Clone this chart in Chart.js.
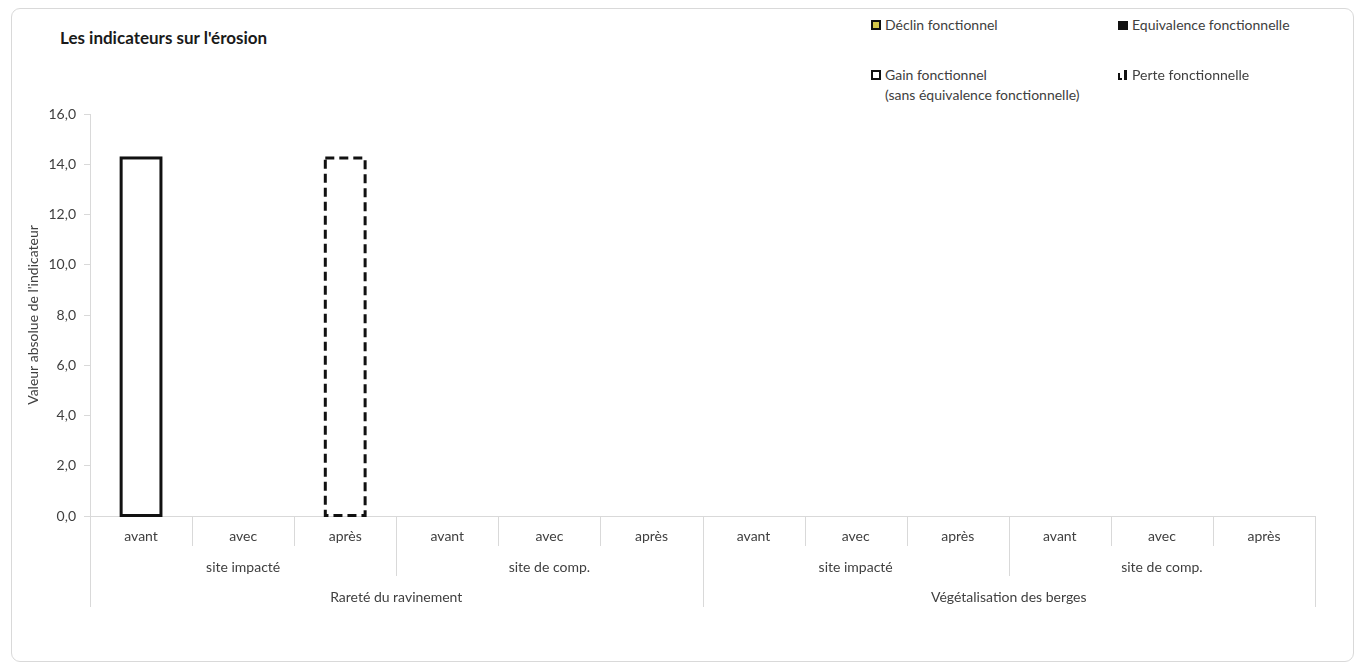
<!DOCTYPE html>
<html lang="fr">
<head>
<meta charset="utf-8">
<title>Les indicateurs sur l'érosion</title>
<script src="https://cdn.jsdelivr.net/npm/chart.js@4.4.1/dist/chart.umd.min.js"></script>
<style>
  html, body { margin: 0; padding: 0; background: #fff; }
  body { width: 1360px; height: 670px; position: relative; overflow: hidden; font-family: Lato, "Open Sans", sans-serif; }
  .frame { position: absolute; left: 11px; top: 8px; width: 1343px; height: 654px; border: 1px solid #d9d9d9; border-radius: 9px; box-sizing: border-box; }
  #erosionChart { position: absolute; left: 0; top: 0; }
  .chart-title { position: absolute; left: 60px; top: 27px; font-weight: bold; font-size: 17px; line-height: 22px; color: #1a1a1a; }
  .legend { position: absolute; left: 0; top: 0; font-size: 14px; color: #404040; }
  .legend-item { position: absolute; display: flex; align-items: flex-start; line-height: 20px; white-space: nowrap; }
  .legend-item canvas { flex-shrink: 0; width: 12px; height: 12px; margin-top: 4px; margin-right: 3px; }
</style>
</head>
<body>
<div class="frame"></div>
<div class="chart-title">Les indicateurs sur l'érosion</div>
<div class="legend" id="legend"></div>
<canvas id="erosionChart" width="1360" height="670"></canvas>
<script>
// Catégories de l'axe X (trois niveaux)
const periods = ['avant', 'avec', 'après', 'avant', 'avec', 'après', 'avant', 'avec', 'après', 'avant', 'avec', 'après'];
const sites = ['site impacté', 'site de comp.', 'site impacté', 'site de comp.'];
const indicators = ['Rareté du ravinement', 'Végétalisation des berges'];

// Valeurs des séries
const declinValues = [null, null, null, null, null, null, null, null, null, null, null, null];
const equivalenceValues = [null, null, null, null, null, null, null, null, null, null, null, null];
const gainValues = [14.25, null, null, null, null, null, null, null, null, null, null, null];
const perteValues = [null, null, 14.25, null, null, null, null, null, null, null, null, null];

// Graduations de l'axe Y
const yTicks = [0, 2, 4, 6, 8, 10, 12, 14, 16];

const seriesNames = ['Déclin fonctionnel', 'Equivalence fonctionnelle', 'Gain fonctionnel\n(sans équivalence fonctionnelle)', 'Perte fonctionnelle'];

const labelFont = { family: 'Lato, "Open Sans", sans-serif', size: 14 };
const textColor = '#404040';
const lineColor = '#d9d9d9';

// Contour des barres : trait plein ou pointillé, centré sur le bord de la barre
const outlinedBars = {
    id: 'outlinedBars',
    afterDatasetsDraw(chart) {
        const ctx = chart.ctx;
        chart.data.datasets.forEach((ds, i) => {
            if (!ds.outline) return;
            const meta = chart.getDatasetMeta(i);
            meta.data.forEach((el, j) => {
                if (ds.data[j] === null) return;
                const p = el.getProps(['x', 'y', 'base', 'width'], true);
                ctx.save();
                ctx.strokeStyle = ds.outline.color;
                ctx.lineWidth = ds.outline.width;
                ctx.setLineDash(ds.outline.dash);
                ctx.strokeRect(p.x - p.width / 2, p.y, p.width, p.base - p.y);
                ctx.restore();
            });
        });
    }
};

// Libellés des niveaux 2 et 3 de l'axe X et traits de séparation
const groupAxis = {
    id: 'groupAxis',
    afterDraw(chart) {
        const ctx = chart.ctx;
        const x = chart.scales.x;
        const bottom = chart.chartArea.bottom;
        const step = x.getPixelForValue(1) - x.getPixelForValue(0);
        const edge = k => x.getPixelForValue(0) - step / 2 + k * step;

        ctx.save();
        ctx.strokeStyle = lineColor;
        ctx.lineWidth = 1;
        for (let k = 0; k <= periods.length; k++) {
            let depth = 30;
            if (k % 6 === 0) depth = 91;
            else if (k % 3 === 0) depth = 60;
            const px = Math.round(edge(k)) + 0.5;
            ctx.beginPath();
            ctx.moveTo(px, bottom);
            ctx.lineTo(px, bottom + depth);
            ctx.stroke();
        }

        ctx.fillStyle = textColor;
        ctx.font = labelFont.size + 'px ' + labelFont.family;
        ctx.textAlign = 'center';
        ctx.textBaseline = 'middle';
        sites.forEach((s, g) => {
            ctx.fillText(s, (edge(g * 3) + edge(g * 3 + 3)) / 2, bottom + 51);
        });
        indicators.forEach((s, g) => {
            ctx.fillText(s, (edge(g * 6) + edge(g * 6 + 6)) / 2, bottom + 81);
        });
        ctx.restore();
    }
};

function buildLegend() {
    const legend = document.getElementById('legend');
    const spots = [[870, 15], [1117, 15], [870, 65], [1117, 65]];
    seriesNames.forEach((name, i) => {
        const item = document.createElement('div');
        item.className = 'legend-item';
        item.style.left = spots[i][0] + 'px';
        item.style.top = spots[i][1] + 'px';
        const sw = document.createElement('canvas');
        sw.width = 12; sw.height = 12;
        const c = sw.getContext('2d');
        c.fillStyle = '#111';
        if (i === 0) {
            c.fillRect(1, 1, 10, 10);
            c.fillStyle = '#d4c64a'; c.fillRect(3, 3, 6, 6);
        } else if (i === 1) {
            c.fillRect(1, 2, 10, 9);
        } else if (i === 2) {
            c.fillRect(1, 1, 10, 10);
            c.fillStyle = '#fff'; c.fillRect(3, 3, 6, 6);
        } else {
            c.fillRect(1, 4, 2, 7); c.fillRect(1, 9, 4, 2);
            c.fillRect(7, 1, 3, 10);
        }
        const txt = document.createElement('div');
        txt.innerHTML = name.split('\n').join('<br>');
        item.appendChild(sw);
        item.appendChild(txt);
        legend.appendChild(item);
    });
}

function initErosionChart() {
    const ctx = document.getElementById('erosionChart').getContext('2d');
    const common = { grouped: false, barPercentage: 0.39, categoryPercentage: 1, borderWidth: 0 };

    new Chart(ctx, {
        type: 'bar',
        data: {
            labels: periods,
            datasets: [
                Object.assign({ label: seriesNames[0], data: declinValues, backgroundColor: '#d4c64a',
                    outline: { color: '#111', width: 3, dash: [] } }, common),
                Object.assign({ label: seriesNames[1], data: equivalenceValues, backgroundColor: '#111' }, common),
                Object.assign({ label: seriesNames[2], data: gainValues, backgroundColor: '#fff',
                    outline: { color: '#111', width: 3, dash: [] } }, common),
                Object.assign({ label: seriesNames[3], data: perteValues, backgroundColor: 'rgba(0,0,0,0)',
                    outline: { color: '#111', width: 3, dash: [9, 5] } }, common)
            ]
        },
        options: {
            responsive: false,
            animation: false,
            layout: { padding: { left: 0, top: 114, right: 45, bottom: 0 } },
            plugins: {
                legend: { display: false },
                tooltip: { enabled: false }
            },
            scales: {
                x: {
                    grid: { display: false },
                    border: { display: true, color: lineColor },
                    ticks: { color: textColor, font: labelFont, padding: 4, maxRotation: 0, autoSkip: false },
                    afterFit: s => { s.height = 670 - 516; }
                },
                y: {
                    min: 0,
                    max: 16,
                    afterBuildTicks: s => { s.ticks = yTicks.map(v => ({ value: v })); },
                    grid: { drawOnChartArea: false, color: lineColor, tickLength: 6 },
                    border: { display: true, color: lineColor },
                    ticks: {
                        color: textColor, font: labelFont, padding: 8,
                        callback: v => v.toFixed(1).replace('.', ',')
                    },
                    title: {
                        display: true,
                        text: "Valeur absolue de l'indicateur",
                        color: textColor,
                        font: labelFont,
                        padding: { top: 25, bottom: 0 }
                    },
                    afterFit: s => { s.width = 90; }
                }
            }
        },
        plugins: [outlinedBars, groupAxis]
    });
}

buildLegend();
initErosionChart();
</script>
</body>
</html>
